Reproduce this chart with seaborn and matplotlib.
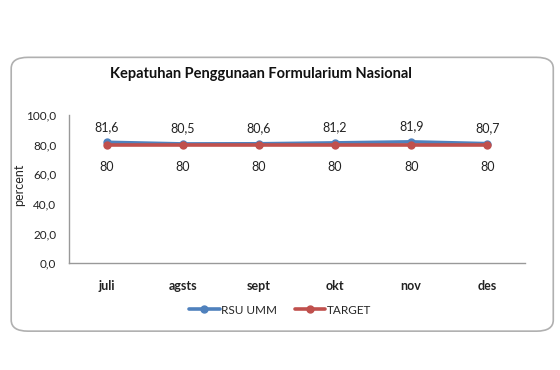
import pandas as pd
import matplotlib.pyplot as plt
import seaborn as sns
from matplotlib.patches import FancyBboxPatch

# data
bulan = ['juli', 'agsts', 'sept', 'okt', 'nov', 'des']
rsu_umm = [81.6, 80.5, 80.6, 81.2, 81.9, 80.7]
target = [80, 80, 80, 80, 80, 80]

df = pd.DataFrame({
    'bulan': bulan * 2,
    'nilai': rsu_umm + target,
    'seri': ['RSU UMM'] * len(bulan) + ['TARGET'] * len(bulan),
})

sns.set_theme(style='white')
plt.rcParams['font.family'] = ['Lato', 'DejaVu Sans']

fig = plt.figure(figsize=(5.6, 3.7), dpi=100)
ax = fig.add_axes([0.123, 0.289, 0.815, 0.40])

# kotak luar dengan sudut membulat
box = FancyBboxPatch((0.02, 0.105), 0.968, 0.74, boxstyle='round,pad=0,rounding_size=0.03',
                     transform=fig.transFigure, facecolor='white', edgecolor='#b0b0b0',
                     linewidth=1.2, zorder=-1)
fig.patches.append(box)

palette = {'RSU UMM': '#4F81BD', 'TARGET': '#C0504D'}
sns.lineplot(data=df, x='bulan', y='nilai', hue='seri', palette=palette, marker='o',
             markersize=6, markeredgewidth=0, linewidth=2.6, sort=False, ax=ax, legend=False)

for i, v in enumerate(rsu_umm):
    ax.annotate(f'{v:.1f}'.replace('.', ','), (i, v), xytext=(0, 11), textcoords='offset points',
                ha='center', va='center', fontsize=9, color='#222222')
for i, v in enumerate(target):
    ax.annotate(f'{v}', (i, v), xytext=(0, -16), textcoords='offset points',
                ha='center', va='center', fontsize=9, color='#222222')

ax.set_xlim(-0.5, len(bulan) - 0.5)
ax.set_ylim(0, 100)
ax.set_yticks([0, 20, 40, 60, 80, 100])
ax.set_yticklabels([f'{t:.1f}'.replace('.', ',') for t in [0, 20, 40, 60, 80, 100]], fontsize=8.5)
ax.set_xticks(range(len(bulan)))
ax.set_xticklabels(bulan, fontsize=9, fontweight='bold')
ax.tick_params(axis='x', length=0, pad=12, colors='#222222')
ax.tick_params(axis='y', length=0, pad=9, colors='#222222')
ax.set_xlabel('')
ax.set_ylabel('percent', fontsize=9)
ax.yaxis.set_label_coords(-0.096, 0.53)

for side in ['top', 'right']:
    ax.spines[side].set_visible(False)
for side in ['left', 'bottom']:
    ax.spines[side].set_color('#999999')
    ax.spines[side].set_linewidth(1.0)

fig.text(0.466, 0.80, 'Kepatuhan Penggunaan Formularium Nasional', ha='center', va='center',
         fontsize=10.5, fontweight='bold', color='#111111')

handles = [plt.Line2D([], [], color=palette[s], marker='o', markersize=5, linewidth=2.6) for s in palette]
fig.legend(handles, list(palette), loc='center', bbox_to_anchor=(0.5, 0.162), ncol=2,
           frameon=False, fontsize=8.5, handlelength=2.6, handletextpad=0.1, columnspacing=1.5)

plt.savefig('out.png', dpi=100)
